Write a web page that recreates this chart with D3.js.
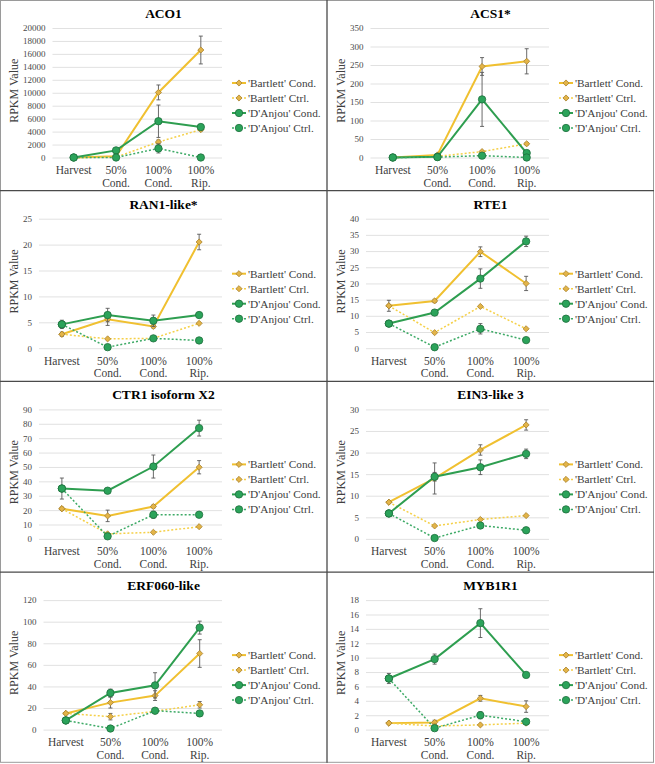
<!DOCTYPE html>
<html>
<head>
<meta charset="utf-8">
<script src="https://cdn.jsdelivr.net/npm/d3@7"></script>
<style>
  body { margin: 0; background: #fff; }
  svg { display: block; }
  svg text { font-family: "Liberation Serif", "Times New Roman", serif; }
</style>
</head>
<body>
<div id="chart"></div>
<script>
const categories = [["Harvest"], ["50%", "Cond."], ["100%", "Cond."], ["100%", "Rip."]];
const seriesNames = ["'Bartlett' Cond.", "'Bartlett' Ctrl.", "'D'Anjou' Cond.", "'D'Anjou' Ctrl."];
const genes = ["ACO1", "ACS1*", "RAN1-like*", "RTE1", "CTR1 isoform X2", "EIN3-like 3", "ERF060-like", "MYB1R1"];
const yMaxes = [20000, 350, 25, 40, 90, 30, 120, 18];
const ySteps = [2000, 50, 5, 5, 10, 5, 20, 2];

// values per series: Bartlett Cond, Bartlett Ctrl, D'Anjou Cond, D'Anjou Ctrl
const aco1 = [[0, 200, 10050, 16600], [0, 50, 2400, 4300], [0, 1100, 5600, 4700], [0, 0, 1400, 0]];
const aco1Err = [[0, 0, 1150, 2150], [0, 0, 300, 200], [0, 200, 2500, 400], [0, 0, 700, 0]];
const acs1 = [[0, 7, 246, 260], [0, 3, 16, 37], [0, 2, 157, 12], [0, 1, 5, 0]];
const acs1Err = [[0, 0, 24, 34], [0, 0, 2, 3], [0, 0, 73, 3], [0, 0, 1, 0]];
const ran1 = [[2.7, 5.6, 4.2, 20.5], [2.7, 1.8, 1.9, 4.8], [4.6, 6.4, 5.3, 6.4], [4.6, 0.2, 1.9, 1.5]];
const ran1Err = [[0.4, 1.2, 0.3, 1.5], [0, 0, 0, 0], [0.8, 1.3, 1.1, 0], [0, 0, 0, 0]];
const rte1 = [[13.1, 14.6, 29.8, 20], [13.1, 4.8, 12.9, 6], [7.6, 11, 21.5, 33], [7.6, 0.3, 6, 2.5]];
const rte1Err = [[1.7, 0.5, 1.5, 2.2], [0, 0, 0, 0], [0.8, 0.8, 3, 1.6], [0, 0, 1.6, 0]];
const ctr1 = [[21, 16, 22.5, 49.8], [21, 3.5, 4.6, 8.5], [35, 33.5, 50.3, 77], [35, 1.8, 16.8, 16.8]];
const ctr1Err = [[1, 4, 1, 4.6], [0, 0, 0, 0], [7.3, 0, 8, 5.5], [0, 0, 2.5, 0]];
const ein3 = [[8.5, 14, 20.6, 26.4], [8.5, 3, 4.5, 5.4], [5.9, 14.4, 16.6, 19.7], [5.9, 0.2, 3.1, 2]];
const ein3Err = [[0, 3.6, 1.2, 1.2], [0, 0, 0, 0], [0.7, 1, 1.7, 1.1], [0, 0, 0, 0]];
const erf060 = [[15, 25, 31.5, 70.5], [15, 12, 17, 23], [8.5, 34, 41, 94.5], [8.5, 1, 17.5, 15]];
const erf060Err = [[0, 5, 4.5, 12.8], [0, 3, 0, 3], [0, 3.5, 11.7, 6], [0, 0, 0, 0]];
const myb1r1 = [[0.9, 1.0, 4.35, 3.2], [0.9, 0.5, 0.65, 0.9], [7.1, 9.8, 14.8, 7.6], [7.1, 0.2, 2.0, 1.1]];
const myb1r1Err = [[0, 0.3, 0.4, 0.8], [0, 0, 0, 0], [0.7, 0.7, 2, 0], [0, 0, 0.5, 0]];

const panelValues = [aco1, acs1, ran1, rte1, ctr1, ein3, erf060, myb1r1];
const panelErrors = [aco1Err, acs1Err, ran1Err, rte1Err, ctr1Err, ein3Err, erf060Err, myb1r1Err];

const WIDTH = 655, HEIGHT = 764;
const PANEL_W = 327, PANEL_H = 190.7;
const SERIF = "Liberation Serif, Times New Roman, serif";

const lineColors = ["#F0C030", "#F5D048", "#2E9E50", "#3DAA66"];
const markerFill = ["#E3B448", "#E3B448", "#2BA35A", "#2BA35A"];
const markerStroke = ["#A8822C", "#A8822C", "#1E6E3C", "#1E6E3C"];
const dashed = [false, true, false, true];
const isDiamond = [true, true, false, false];

const svg = d3.select("#chart").append("svg")
  .attr("width", WIDTH)
  .attr("height", HEIGHT);

svg.append("rect").attr("width", WIDTH).attr("height", HEIGHT).attr("fill", "#fff");

function drawMarker(sel, s) {
  if (isDiamond[s]) {
    sel.append("path")
      .attr("d", d3.symbol().type(d3.symbolDiamond2).size(24))
      .attr("fill", markerFill[s])
      .attr("stroke", markerStroke[s])
      .attr("stroke-width", 0.8);
  } else {
    sel.append("circle")
      .attr("r", 3.7)
      .attr("fill", markerFill[s])
      .attr("stroke", markerStroke[s])
      .attr("stroke-width", 0.8);
  }
}

genes.forEach((gene, i) => {
  const col = i % 2, row = Math.floor(i / 2);
  const g = svg.append("g")
    .attr("transform", `translate(${col * PANEL_W}, ${row * PANEL_H})`);

  const yMax = yMaxes[i], step = ySteps[i];
  const ticks = d3.range(0, yMax + step / 2, step);
  const maxLen = d3.max(ticks, t => String(t).length);
  const left = 30 + 4.5 * maxLen, right = 222;
  const top = 28, bottom = 157.5;

  const x = d3.scalePoint().domain(d3.range(categories.length)).range([left, right]).padding(0.5);
  const y = d3.scaleLinear().domain([0, yMax]).range([bottom, top]);

  // title
  g.append("text")
    .attr("x", PANEL_W / 2)
    .attr("y", 18)
    .attr("text-anchor", "middle")
    .attr("font-family", SERIF)
    .attr("font-size", 13.5)
    .attr("font-weight", "bold")
    .attr("fill", "#000")
    .text(gene);

  // y axis + gridlines
  const yAxis = g.append("g")
    .attr("transform", `translate(${left}, 0)`)
    .call(d3.axisLeft(y).tickValues(ticks).tickFormat(d3.format("d"))
      .tickSizeInner(-(right - left)).tickSizeOuter(0).tickPadding(7));
  yAxis.attr("font-family", SERIF);
  yAxis.select(".domain").remove();
  yAxis.selectAll(".tick line").attr("stroke", "#d9d9d9").attr("stroke-width", 0.8);
  yAxis.selectAll(".tick text")
    .attr("font-family", SERIF)
    .attr("font-size", 9)
    .attr("fill", "#4a4a4a");

  // y label
  g.append("text")
    .attr("transform", `translate(18, ${(top + bottom) / 2 - 2}) rotate(-90)`)
    .attr("text-anchor", "middle")
    .attr("font-family", SERIF)
    .attr("font-size", 12)
    .attr("fill", "#404040")
    .text("RPKM Value");

  // category labels
  const cat = g.selectAll(".cat")
    .data(categories)
    .join("text")
    .attr("class", "cat")
    .attr("text-anchor", "middle")
    .attr("font-family", SERIF)
    .attr("font-size", 11.5)
    .attr("fill", "#404040");
  cat.selectAll("tspan")
    .data((d, k) => d.map(t => ({t, k})))
    .join("tspan")
    .attr("x", d => x(d.k))
    .attr("y", (d, j) => 174 + j * 12.5)
    .text(d => d.t);

  // series
  const values = panelValues[i], errs = panelErrors[i];
  values.forEach((vals, s) => {
    const sg = g.append("g");
    sg.append("path")
      .datum(vals)
      .attr("fill", "none")
      .attr("stroke", lineColors[s])
      .attr("stroke-width", dashed[s] ? 1.5 : 2)
      .attr("stroke-dasharray", dashed[s] ? "2,2" : null)
      .attr("d", d3.line().x((d, k) => x(k)).y(d => y(d)));

    const eb = sg.selectAll(".err")
      .data(vals.map((v, k) => ({v, k, e: errs[s][k]})).filter(d => d.e > 0))
      .join("g")
      .attr("stroke", "#595959")
      .attr("stroke-width", 0.9);
    eb.append("line")
      .attr("x1", d => x(d.k)).attr("x2", d => x(d.k))
      .attr("y1", d => y(d.v - d.e)).attr("y2", d => y(d.v + d.e));
    eb.append("line")
      .attr("x1", d => x(d.k) - 2).attr("x2", d => x(d.k) + 2)
      .attr("y1", d => y(d.v + d.e)).attr("y2", d => y(d.v + d.e));
    eb.append("line")
      .attr("x1", d => x(d.k) - 2).attr("x2", d => x(d.k) + 2)
      .attr("y1", d => y(d.v - d.e)).attr("y2", d => y(d.v - d.e));

    sg.selectAll(".mk")
      .data(vals)
      .join("g")
      .attr("class", "mk")
      .attr("transform", (d, k) => `translate(${x(k)}, ${y(d)})`)
      .each(function () { drawMarker(d3.select(this), s); });
  });

  // legend
  const lg = g.append("g").attr("transform", "translate(232, 83)");
  seriesNames.forEach((name, s) => {
    const row = lg.append("g").attr("transform", `translate(0, ${s * 15})`);
    row.append("line")
      .attr("x1", 0).attr("x2", 14)
      .attr("stroke", lineColors[s])
      .attr("stroke-width", dashed[s] ? 1.5 : 2)
      .attr("stroke-dasharray", dashed[s] ? "2,2" : null);
    const m = row.append("g").attr("transform", "translate(7, 0)");
    drawMarker(m, s);
    row.append("text")
      .attr("x", 16)
      .attr("y", 4)
      .attr("font-family", SERIF)
      .attr("font-size", 11.3)
      .attr("fill", "#404040")
      .text(name);
  });
});

// panel borders
const grid = svg.append("g").attr("fill", "none");
grid.append("rect")
  .attr("x", 0.5).attr("y", 0.5)
  .attr("width", PANEL_W * 2 - 1).attr("height", PANEL_H * 4 - 1)
  .attr("stroke", "#9a9a9a").attr("stroke-width", 1);
grid.append("line")
  .attr("x1", PANEL_W).attr("x2", PANEL_W)
  .attr("y1", 0).attr("y2", PANEL_H * 4)
  .attr("stroke", "#4a4a4a").attr("stroke-width", 1.3);
[1, 2, 3].forEach(r => {
  grid.append("line")
    .attr("x1", 0).attr("x2", PANEL_W * 2)
    .attr("y1", r * PANEL_H).attr("y2", r * PANEL_H)
    .attr("stroke", "#4a4a4a").attr("stroke-width", 1.3);
});
</script>
</body>
</html>
